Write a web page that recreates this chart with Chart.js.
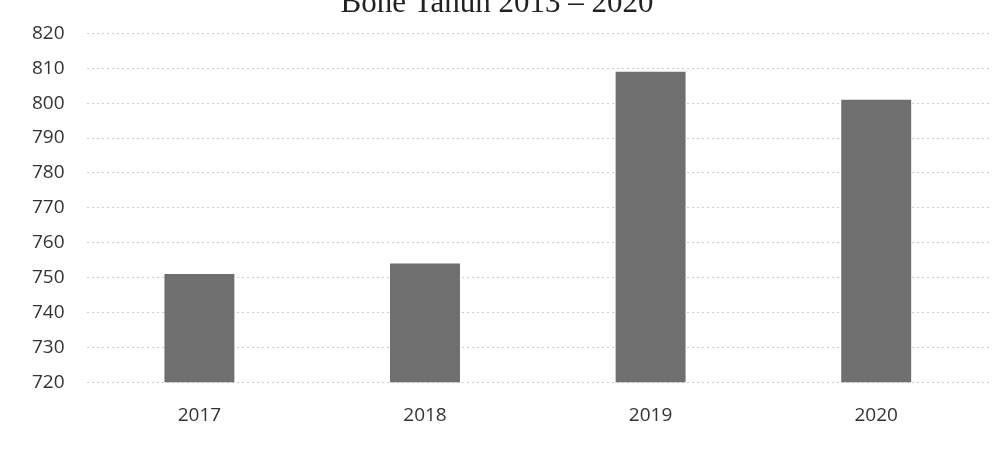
<!DOCTYPE html>
<html>
<head>
<meta charset="utf-8">
<script src="https://cdn.jsdelivr.net/npm/chart.js@4/dist/chart.umd.min.js"></script>
<style>
  html, body { margin: 0; padding: 0; background: #ffffff; }
  #wrap { width: 1001px; height: 449px; position: relative; }
</style>
</head>
<body>
<div id="wrap"><canvas id="c" width="1001" height="449"></canvas></div>
<script>
// Years shown along the category axis
const years = ['2017', '2018', '2019', '2020'];
// Yearly totals
const totals = [751, 754, 809, 801];
// Value axis range and spacing
const axisMin = 720;
const axisMax = 820;
const axisStep = 10;
const chartTitle = 'Bone Tahun 2013 – 2020';

// Title sits at the very top edge of the page, partly cut off
const titlePlugin = {
  id: 'topTitle',
  afterDraw(chart) {
    const ctx = chart.ctx;
    ctx.save();
    ctx.font = '31px "Liberation Serif", "DejaVu Serif", serif';
    ctx.fillStyle = '#222222';
    ctx.textAlign = 'center';
    ctx.textBaseline = 'alphabetic';
    ctx.fillText(chartTitle, 497, 12);
    ctx.restore();
  }
};

const tickFont = { family: '"Open Sans", "Liberation Sans", sans-serif', size: 19 };

new Chart(document.getElementById('c'), {
  type: 'bar',
  data: {
    labels: years,
    datasets: [{
      data: totals,
      backgroundColor: '#6f6f6f',
      borderWidth: 0,
      categoryPercentage: 1.0,
      barPercentage: 0.31
    }]
  },
  options: {
    responsive: false,
    animation: false,
    layout: { padding: { top: 28, left: 10, right: 12, bottom: 0 } },
    plugins: {
      legend: { display: false },
      title: { display: false },
      tooltip: { enabled: false }
    },
    scales: {
      x: {
        grid: { display: false, drawTicks: false },
        border: { display: false },
        ticks: { color: '#333333', padding: 22, font: tickFont }
      },
      y: {
        min: axisMin,
        max: axisMax,
        grid: { color: '#cccccc', lineWidth: 1, drawTicks: false },
        border: { display: false, dash: [2, 3] },
        ticks: { stepSize: axisStep, color: '#333333', padding: 22, font: tickFont }
      }
    }
  },
  plugins: [titlePlugin]
});
</script>
</body>
</html>
